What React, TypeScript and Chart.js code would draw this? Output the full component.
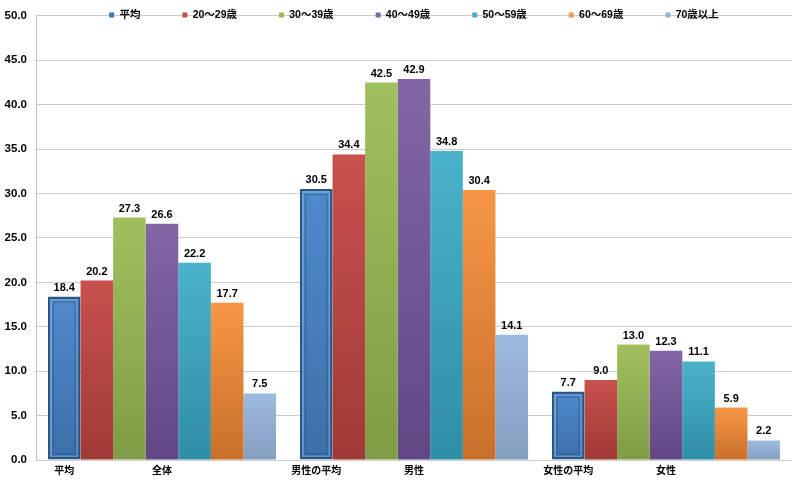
import React, { useEffect, useRef } from 'react';
import { Chart, registerables } from 'chart.js';

Chart.register(...registerables);

const FONT = "'Liberation Sans', 'Noto Sans CJK JP', sans-serif";

const categories = ['全体', '男性', '女性'];
const axisLabels = ['平均', '全体', '男性の平均', '男性', '女性の平均', '女性'];
const seriesNames = ['平均', '20～29歳', '30～39歳', '40～49歳', '50～59歳', '60～69歳', '70歳以上'];

const avgValues = [18.4, 30.5, 7.7];
const age20Values = [20.2, 34.4, 9.0];
const age30Values = [27.3, 42.5, 13.0];
const age40Values = [26.6, 42.9, 12.3];
const age50Values = [22.2, 34.8, 11.1];
const age60Values = [17.7, 30.4, 5.9];
const age70Values = [7.5, 14.1, 2.2];

const yMin = 0;
const yMax = 50;
const yStep = 5;

const topColors = ['#4f8acb', '#c8514d', '#a0c05e', '#8266a6', '#4bb2cb', '#f79646', '#9dbbe0'];
const bottomColors = ['#3d70aa', '#a03a36', '#7f9c46', '#614885', '#2e8ea5', '#c8702a', '#849ebf'];
const legendColors = ['#4274ad', '#c0504d', '#9bbb59', '#8064a2', '#4bacc6', '#f79646', '#95b3d7'];

const CAT_PCT = 0.905;
const LEG_FONT = 10.5;
const LEG_PAD = 42;
const LEG_Y = 15;

export default function App() {
  const ref = useRef<HTMLCanvasElement>(null);

  useEffect(() => {
    const canvas = ref.current;
    if (!canvas) return;

    const grad = (top: string, bottom: string) => (ctx: any) => {
      const chart = ctx.chart;
      const ca = chart.chartArea;
      if (!ca || ctx.type !== 'data' || !chart.scales.y) return top;
      const ys = chart.scales.y;
      const y0 = ys.getPixelForValue(ctx.raw as number);
      const y1 = ys.getPixelForValue(0);
      if (!isFinite(y0) || !isFinite(y1) || y1 - y0 < 1) return top;
      const g = chart.ctx.createLinearGradient(0, y0, 0, y1);
      g.addColorStop(0, top);
      g.addColorStop(1, bottom);
      return g;
    };

    const seriesData = [avgValues, age20Values, age30Values, age40Values, age50Values, age60Values, age70Values];

    const datasets = seriesData.map((data, i) => ({
      label: seriesNames[i],
      data,
      xAxisID: 'x',
      yAxisID: 'y',
      backgroundColor: grad(topColors[i], bottomColors[i]),
      borderColor: i === 0 ? '#2a5685' : 'rgba(0,0,0,0)',
      borderWidth: i === 0 ? 2.5 : 0,
      borderSkipped: false as any,
      categoryPercentage: CAT_PCT,
      barPercentage: 1,
    }));

    const bw = CAT_PCT / seriesNames.length;
    const tickPositions: number[] = [];
    categories.forEach((_, i) => {
      tickPositions.push(i - 3 * bw);
      tickPositions.push(i);
    });

    const valueLabels = {
      id: 'valueLabels',
      afterDatasetsDraw(chart: any) {
        const ctx = chart.ctx;
        ctx.save();
        ctx.font = `bold 11px ${FONT}`;
        ctx.fillStyle = '#000';
        ctx.textAlign = 'center';
        ctx.textBaseline = 'alphabetic';
        chart.data.datasets.forEach((ds: any, di: number) => {
          const meta = chart.getDatasetMeta(di);
          meta.data.forEach((el: any, i: number) => {
            const v = ds.data[i] as number;
            ctx.fillText(v.toFixed(1), el.x, el.y - 6);
          });
        });
        ctx.restore();
      },
    };

    const bevel = {
      id: 'bevel',
      afterDatasetsDraw(chart: any) {
        const ctx = chart.ctx;
        const meta = chart.getDatasetMeta(0);
        ctx.save();
        meta.data.forEach((el: any) => {
          const left = el.x - el.width / 2;
          const w = el.width;
          const top = el.y;
          const h = el.base - el.y;
          ctx.strokeStyle = 'rgba(130,175,225,0.55)';
          ctx.lineWidth = 1.5;
          ctx.strokeRect(left + 3.25, top + 3.25, w - 6.5, h - 6.5);
          ctx.strokeStyle = 'rgba(30,65,105,0.45)';
          ctx.lineWidth = 1;
          ctx.strokeRect(left + 5.5, top + 5.5, w - 11, h - 11);
        });
        ctx.restore();
      },
    };

    const legendInside = {
      id: 'legendInside',
      beforeLayout(chart: any) {
        const lg = chart.legend;
        if (lg && !lg.__patched) {
          const orig = lg.fit;
          lg.fit = function () {
            orig.call(this);
            this.height = 0;
          };
          lg.__patched = true;
        }
      },
      afterLayout(chart: any) {
        const lg = chart.legend;
        const ca = chart.chartArea;
        if (!lg || !ca) return;
        lg.left = ca.left;
        lg.right = ca.right;
        lg.width = ca.right - ca.left;
        lg.top = LEG_Y - LEG_PAD - LEG_FONT / 2;
        lg.height = LEG_FONT + 2 * LEG_PAD;
        lg.bottom = lg.top + lg.height;
      },
    };

    const chart = new Chart(canvas, {
      type: 'bar',
      data: { labels: categories, datasets: datasets as any },
      options: {
        responsive: false,
        animation: false,
        devicePixelRatio: 1,
        layout: { padding: { top: 8, right: 7, left: 0, bottom: 0 } },
        plugins: {
          tooltip: { enabled: false },
          legend: {
            display: true,
            position: 'top',
            align: 'center',
            labels: {
              boxWidth: 5,
              boxHeight: 5,
              padding: LEG_PAD,
              color: '#000',
              font: { family: FONT, size: LEG_FONT, weight: 'bold' },
              generateLabels: (c: any) =>
                c.data.datasets.map((ds: any, i: number) => ({
                  text: ds.label,
                  fillStyle: legendColors[i],
                  strokeStyle: legendColors[i],
                  lineWidth: 0,
                  hidden: false,
                  datasetIndex: i,
                })),
            },
          },
        },
        scales: {
          x: {
            type: 'category',
            display: false,
            offset: true,
            grid: { display: false },
          },
          x2: {
            type: 'linear',
            position: 'bottom',
            min: -0.5,
            max: 2.5,
            offset: false,
            bounds: 'data',
            afterBuildTicks: (s: any) => {
              s.ticks = tickPositions.map((v) => ({ value: v }));
            },
            afterFit: (s: any) => {
              s.height = 27;
            },
            ticks: {
              autoSkip: false,
              maxRotation: 0,
              minRotation: 0,
              padding: 5,
              color: '#000',
              font: { family: FONT, size: 10, weight: 'bold' },
              callback: (_v: any, i: number) => axisLabels[i],
            },
            grid: { display: false, drawTicks: false, offset: false },
            border: { display: false },
          },
          y: {
            type: 'linear',
            position: 'left',
            min: yMin,
            max: yMax,
            afterFit: (s: any) => {
              s.width = 36;
            },
            ticks: {
              stepSize: yStep,
              padding: 9,
              color: '#000',
              font: { family: FONT, size: 11.5, weight: 'bold' },
              callback: (v: any) => Number(v).toFixed(1),
            },
            grid: { color: '#cbcbcb', drawTicks: false, lineWidth: 1 },
            border: { display: true, color: '#c4c4c4' },
          },
        } as any,
      },
      plugins: [valueLabels, bevel, legendInside],
    });

    return () => chart.destroy();
  }, []);

  return (
    <div style={{ position: 'fixed', left: 0, top: 0, width: 799, height: 487, background: '#fff' }}>
      <canvas ref={ref} width={799} height={487} style={{ display: 'block' }} />
    </div>
  );
}
